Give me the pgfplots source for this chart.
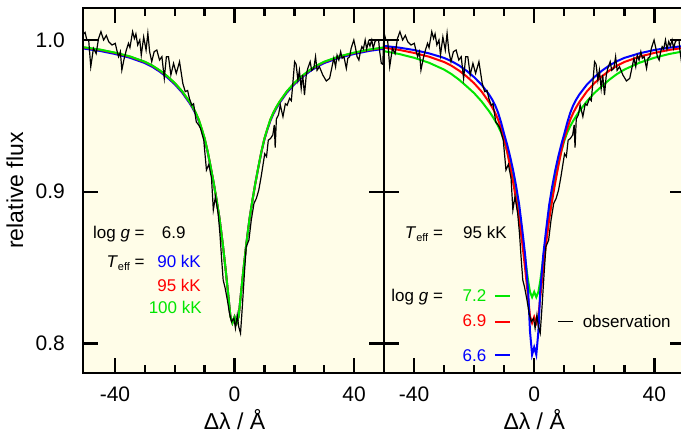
\documentclass[border=0pt]{standalone}
\usepackage{fontspec}
\setmainfont{Liberation Sans}
\usepackage{pgfplots}
\usepackage{pgfplotstable}
\pgfplotsset{compat=1.18}
\definecolor{bgy}{RGB}{255,253,232}
\definecolor{mblue}{RGB}{0,0,255}
\definecolor{mred}{RGB}{255,0,0}
\definecolor{mgreen}{RGB}{0,230,0}

% observed spectrum
\pgfplotstableread{
x f
-51.0 1.003
-50.0 1.005
-49.4 1.000
-48.8 1.000
-48.1 0.9824
-47.2 0.9945
-46.3 0.991
-45.5 1.001
-44.7 1.0055
-43.8 1.000
-42.9 1.003
-42.1 0.9989
-41.0 0.9967
-39.9 0.9978
-39.4 0.9934
-38.8 0.989
-38.2 0.9923
-37.7 0.9802
-36.9 0.988
-36.2 0.9934
-35.5 0.9978
-35.0 0.995
-34.1 1.0055
-33.5 1.001
-33.0 1.004
-32.4 0.9967
-31.7 1.000
-31.2 0.990
-30.4 1.002
-29.6 0.9934
-29.0 1.0044
-28.4 0.9923
-27.7 0.9857
-26.9 0.9923
-26.0 0.9934
-25.1 0.9868
-24.3 0.989
-23.5 0.9747
-22.8 0.989
-22.1 0.989
-21.3 0.977
-20.4 0.9846
-19.5 0.978
-18.4 0.9857
-17.3 0.9714
-16.5 0.966
-15.7 0.9667
-15.1 0.9615
-14.3 0.957
-13.7 0.958
-12.8 0.946
-12.0 0.944
-11.4 0.9418
-10.3 0.934
-9.4 0.9143
-8.6 0.918
-7.7 0.9088
-7.1 0.888
-6.4 0.8967
-5.5 0.8857
-4.9 0.8726
-4.3 0.855
-3.8 0.8418
-3.2 0.837
-2.4 0.8286
-1.7 0.820
-1.0 0.8143
-0.2 0.8165
0.3 0.810
0.9 0.8187
1.4 0.811
2.0 0.8067
2.6 0.824
3.3 0.8462
3.9 0.8638
4.8 0.868
5.6 0.8813
6.5 0.8923
7.3 0.8956
8.1 0.901
8.9 0.9099
9.6 0.9187
10.1 0.925
10.7 0.9231
11.3 0.934
12.0 0.935
12.8 0.9374
13.3 0.944
13.6 0.929
14.0 0.948
14.7 0.9506
15.3 0.9572
16.2 0.9495
17.0 0.958
17.6 0.957
18.4 0.9615
19.0 0.960
19.5 0.9714
20.1 0.9857
20.6 0.984
21.2 0.9736
21.7 0.980
22.3 0.968
22.8 0.977
23.4 0.9637
24.0 0.977
24.5 0.9813
25.3 0.9857
25.8 0.980
26.5 0.9813
27.1 0.989
27.6 0.980
28.4 0.9824
29.5 0.977
30.7 0.973
31.8 0.9747
32.5 0.9813
33.2 0.988
33.8 0.9824
34.3 0.990
34.9 0.9868
35.5 0.9923
36.0 0.988
36.6 0.989
37.4 0.9813
37.9 0.988
38.5 0.989
39.0 0.9945
39.9 1.000
40.5 0.9945
41.0 0.989
41.6 0.9868
42.1 0.9923
42.6 0.9956
43.1 0.994
43.7 1.000
44.2 0.994
44.8 0.999
45.3 0.996
45.9 1.000
46.4 0.9945
47.0 0.999
47.6 1.000
48.2 1.000
48.5 0.9934
49.1 0.9846
49.6 0.984
49.9 1.000
51.0 1.000
}\obs

% model profiles: left panel (log g = 6.9; 90, 95, 100 kK)
\pgfplotstableread{
x b r g
-51 0.9945 0.9952 0.9954
-45 0.9928 0.9935 0.9937
-40 0.9908 0.9915 0.9917
-35 0.9883 0.9890 0.9892
-30 0.9848 0.9855 0.9857
-27.5 0.9823 0.9830 0.9832
-25 0.9791 0.9798 0.9800
-22.5 0.9753 0.9760 0.9762
-20 0.9708 0.9715 0.9717
-17.5 0.9653 0.9660 0.9662
-15 0.9583 0.9590 0.9592
-14 0.9550 0.9557 0.9559
-13 0.9513 0.9520 0.9522
-12 0.9468 0.9475 0.9477
-11 0.9410 0.9415 0.9417
-10 0.9345 0.9350 0.9352
-9 0.9262 0.9265 0.9266
-8 0.9163 0.9165 0.9166
-7 0.9060 0.9060 0.9060
-6 0.8945 0.8945 0.8945
-5 0.8820 0.8820 0.8820
-4 0.8665 0.8665 0.8665
-3 0.8490 0.8490 0.8490
-2 0.8300 0.8300 0.8300
-1.4 0.8180 0.8180 0.8180
-0.7 0.8135 0.8135 0.8135
0 0.8175 0.8175 0.8175
0.7 0.8135 0.8135 0.8135
1.4 0.8180 0.8180 0.8180
2 0.8300 0.8300 0.8300
3 0.8490 0.8490 0.8490
4 0.8665 0.8665 0.8665
5 0.8820 0.8820 0.8820
6 0.8945 0.8945 0.8945
7 0.9060 0.9060 0.9060
8 0.9163 0.9165 0.9166
9 0.9262 0.9265 0.9266
10 0.9345 0.9350 0.9352
11 0.9410 0.9415 0.9417
12 0.9468 0.9475 0.9477
13 0.9513 0.9520 0.9522
14 0.9550 0.9557 0.9559
15 0.9583 0.9590 0.9592
17.5 0.9653 0.9660 0.9662
20 0.9708 0.9715 0.9717
22.5 0.9753 0.9760 0.9762
25 0.9791 0.9798 0.9800
27.5 0.9823 0.9830 0.9832
30 0.9848 0.9855 0.9857
35 0.9883 0.9890 0.9892
40 0.9908 0.9915 0.9917
45 0.9928 0.9935 0.9937
51 0.9945 0.9952 0.9954
}\leftmod

% model profiles: right panel (95 kK; log g = 6.6, 6.9, 7.2)
\pgfplotstableread{
x b r g
-51 0.9963 0.9952 0.9930
-45 0.9950 0.9935 0.9908
-40 0.9934 0.9915 0.9883
-35 0.9912 0.9890 0.9850
-30 0.9882 0.9855 0.9805
-27.5 0.9860 0.9830 0.9775
-25 0.9832 0.9798 0.9738
-22.5 0.9797 0.9760 0.9695
-20 0.9755 0.9715 0.9650
-17.5 0.9705 0.9660 0.9595
-15 0.9640 0.9590 0.9530
-14 0.9608 0.9557 0.9500
-13 0.9570 0.9520 0.9468
-12 0.9520 0.9475 0.9432
-11 0.9455 0.9415 0.9390
-10 0.9380 0.9350 0.9335
-9 0.9310 0.9265 0.9265
-8 0.9230 0.9165 0.9180
-7 0.9140 0.9060 0.9085
-6 0.9035 0.8945 0.8975
-5 0.8915 0.8820 0.8850
-4 0.8755 0.8665 0.8710
-3 0.8580 0.8490 0.8560
-2 0.8340 0.8300 0.8410
-1.4 0.8080 0.8180 0.8340
-0.7 0.7925 0.8135 0.8305
0 0.7975 0.8175 0.8340
0.7 0.7925 0.8135 0.8305
1.4 0.8080 0.8180 0.8340
2 0.8340 0.8300 0.8410
3 0.8580 0.8490 0.8560
4 0.8755 0.8665 0.8710
5 0.8915 0.8820 0.8850
6 0.9035 0.8945 0.8975
7 0.9140 0.9060 0.9085
8 0.9230 0.9165 0.9180
9 0.9310 0.9265 0.9265
10 0.9380 0.9350 0.9335
11 0.9455 0.9415 0.9390
12 0.9520 0.9475 0.9432
13 0.9570 0.9520 0.9468
14 0.9608 0.9557 0.9500
15 0.9640 0.9590 0.9530
17.5 0.9705 0.9660 0.9595
20 0.9755 0.9715 0.9650
22.5 0.9797 0.9760 0.9695
25 0.9832 0.9798 0.9738
27.5 0.9860 0.9830 0.9775
30 0.9882 0.9855 0.9805
35 0.9912 0.9890 0.9850
40 0.9934 0.9915 0.9883
45 0.9950 0.9935 0.9908
51 0.9963 0.9952 0.9930
}\rightmod

\newcommand{\ann}{\fontsize{17}{20}\selectfont}
\newcommand{\teff}{\textit{T}\raisebox{-0.35ex}{\fontsize{11}{12}\selectfont eff}}

\pgfplotsset{panel/.style={
  scale only axis, width=301pt, height=365pt,
  ymin=0.7805, ymax=1.0211,
  axis background/.style={fill=bgy},
  axis line style={line width=2.8pt},
  every tick/.style={black, line width=2.4pt},
  major tick length=15pt, minor tick length=8pt,
  tick align=inside,
  xtick={-40,0,40}, minor xtick={-30,-20,-10,10,20,30},
  ytick={0.8,0.9,1.0},
  axis on top,
  clip mode=individual,
  /pgf/number format/assume math mode=true,
  xticklabel style={font=\fontsize{21}{24}\selectfont, anchor=base, inner sep=0pt, yshift=-28.7pt},
  xlabel={Δλ / Å},
  xlabel style={font=\fontsize{23}{26}\selectfont, anchor=base, yshift=-57pt},
  every node/.append style={inner sep=0pt},
  model/.style={line width=2pt},
  obsline/.style={black, line width=1.2pt},
}}

\begin{document}
\begin{tikzpicture}
\begin{axis}[panel, at={(0pt,0pt)}, anchor=south west,
  xmin=-50.7, xmax=50,
  yticklabel style={font=\fontsize{21}{24}\selectfont, anchor=east, inner sep=0pt, xshift=-18pt,
    /pgf/number format/.cd, fixed, fixed zerofill, precision=1},
  xlabel style={at={(axis description cs:0.5035,0)}},
  ylabel={relative flux},
  ylabel style={font=\fontsize{23}{26}\selectfont, at={(axis description cs:-0.226,0.5)}, anchor=center},
]
\addplot[model, mblue] table[x=x, y=b] {\leftmod};
\addplot[model, mred] table[x=x, y=r] {\leftmod};
\addplot[model, mgreen] table[x=x, y=g] {\leftmod};
\addplot[obsline] table[x=x, y=f] {\obs};
\draw[line width=2.8pt] (rel axis cs:0,0) rectangle (rel axis cs:1,1);
\node[anchor=base east, font=\ann] at (axis cs:-28.9,0.8693) {log \textit{g} =};
\node[anchor=base west, font=\ann] at (axis cs:-25.5,0.8693) {6.9};
\node[anchor=base east, font=\ann] at (axis cs:-28.9,0.8499) {\teff\ =};
\node[anchor=base east, font=\ann, text=mblue] at (axis cs:-10.1,0.8499) {90 kK};
\node[anchor=base east, font=\ann, text=mred] at (axis cs:-10.1,0.8341) {95 kK};
\node[anchor=base east, font=\ann, text=mgreen] at (axis cs:-9.8,0.8198) {100 kK};
\end{axis}
\begin{axis}[panel, at={(301pt,0pt)}, anchor=south west,
  xmin=-50, xmax=50.2,
  yticklabels={},
  xlabel style={at={(axis description cs:0.499,0)}},
]
\addplot[model, mgreen] table[x=x, y=g] {\rightmod};
\addplot[model, mred] table[x=x, y=r] {\rightmod};
\addplot[model, mblue] table[x=x, y=b] {\rightmod};
\addplot[obsline] table[x=x, y=f] {\obs};
\addplot[model, mgreen] coordinates {(-13.1,0.8314) (-7.9,0.8314)};
\addplot[model, mred] coordinates {(-13.1,0.8143) (-7.9,0.8143)};
\addplot[model, mblue] coordinates {(-13.1,0.7924) (-7.9,0.7924)};
\addplot[black, line width=1.5pt] coordinates {(8,0.8143) (13,0.8143)};
\draw[line width=2.8pt] (rel axis cs:0,0) rectangle (rel axis cs:1,1);
\node[anchor=base east, font=\ann] at (axis cs:-29.2,0.8693) {\teff\ =};
\node[anchor=base west, font=\ann] at (axis cs:-24.8,0.8693) {95 kK};
\node[anchor=base east, font=\ann] at (axis cs:-29.2,0.8279) {log \textit{g} =};
\node[anchor=base west, font=\ann, text=mgreen] at (axis cs:-25,0.8279) {7.2};
\node[anchor=base west, font=\ann, text=mred] at (axis cs:-25,0.8110) {6.9};
\node[anchor=base west, font=\ann, text=mblue] at (axis cs:-25,0.7884) {6.6};
\node[anchor=base west, font=\ann] at (axis cs:15,0.8104) {observation};
\end{axis}
\pgfresetboundingbox
\useasboundingbox (-83pt,-61pt) rectangle (598pt,373pt);
\end{tikzpicture}
\end{document}
